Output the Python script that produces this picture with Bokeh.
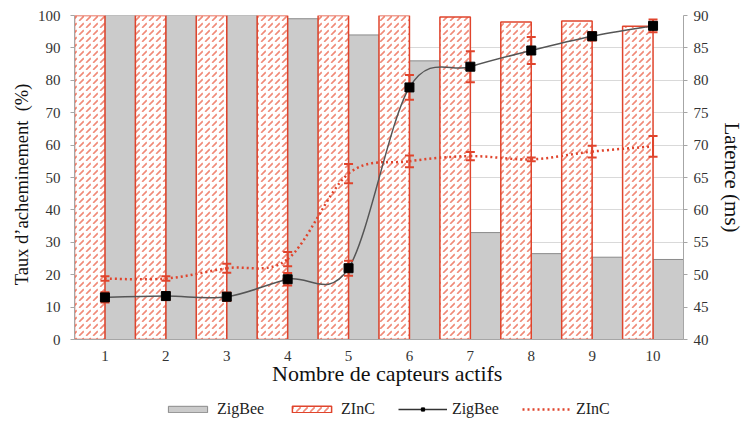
from bokeh.plotting import figure
from bokeh.layouts import column
from bokeh.models import Range1d, LinearAxis, FixedTicker, Legend, LegendItem
from bokeh.embed import file_html
from bokeh.resources import INLINE

# ---- data ----
categories = [1, 2, 3, 4, 5, 6, 7, 8, 9, 10]
tick_labels = ["1", "2", "3", "4", "5", "6", "7", "8", "9", "10"]
rate_zigbee = [100, 100, 100, 99, 94, 86, 33, 26.5, 25.4, 24.7]
rate_zinc = [100, 100, 100, 100, 100, 100, 99.5, 98, 98.3, 96.7]
lat_zigbee = [46.5, 46.7, 46.6, 49.3, 51.0, 78.9, 82.1, 84.6, 86.8, 88.4]
lat_zigbee_err = [0.8, 0.6, 0.65, 0.95, 1.15, 1.9, 2.4, 2.1, 0.65, 1.0]
lat_zinc = [49.4, 49.4, 51.0, 52.4, 65.6, 67.5, 68.3, 67.8, 69.0, 69.8]
lat_zinc_err = [0.35, 0.35, 0.7, 1.1, 1.5, 0.9, 0.65, 0.3, 0.9, 1.6]
series_names = ["ZigBee", "ZInC"]

RED = "#E0442C"
SERIF = "Liberation Serif"
GRAY_FILL = "#cbcbcb"
GRAY_LINE = "#8a8a8a"
HATCH = dict(hatch_pattern=",", hatch_color="#F08A78", hatch_scale=7, hatch_weight=1.7)
NAN = float("nan")
NB = "\u00a0"

p = figure(width=746, height=400, x_range=Range1d(0.5, 10.5), y_range=Range1d(0, 100),
           output_backend="svg", toolbar_location=None,
           min_border_left=74, min_border_right=56, min_border_top=15, min_border_bottom=61)
p.outline_line_color = None
p.extra_y_ranges = {"lat": Range1d(40, 90)}

# bars
p.vbar(x=[c + 0.25 for c in categories], top=rate_zigbee, width=0.5, bottom=0,
       fill_color=GRAY_FILL, line_color=GRAY_LINE, line_width=1)
p.vbar(x=[c - 0.25 for c in categories], top=rate_zinc, width=0.5, bottom=0,
       fill_color="white", line_color=RED, line_width=1.5, **HATCH)

def bez(xs, ys):
    n = len(xs)
    out = dict(x0=[], y0=[], x1=[], y1=[], cx0=[], cy0=[], cx1=[], cy1=[])
    for i in range(n - 1):
        pm = i - 1 if i > 0 else i
        pp = i + 2 if i + 2 < n else i + 1
        out["x0"].append(xs[i]); out["y0"].append(ys[i])
        out["x1"].append(xs[i + 1]); out["y1"].append(ys[i + 1])
        out["cx0"].append(xs[i] + (xs[i + 1] - xs[pm]) / 6)
        out["cy0"].append(ys[i] + (ys[i + 1] - ys[pm]) / 6)
        out["cx1"].append(xs[i + 1] - (xs[pp] - xs[i]) / 6)
        out["cy1"].append(ys[i + 1] - (ys[pp] - ys[i]) / 6)
    return out

def errbars(xs, ys, es):
    lo = [y - e for y, e in zip(ys, es)]
    hi = [y + e for y, e in zip(ys, es)]
    p.segment(x0=xs, y0=lo, x1=xs, y1=hi, line_color=RED, line_width=2, y_range_name="lat")
    p.scatter(x=xs, y=lo, marker="dash", size=9, line_color=RED, line_width=2, y_range_name="lat")
    p.scatter(x=xs, y=hi, marker="dash", size=9, line_color=RED, line_width=2, y_range_name="lat")

# ZInC latency (dotted red)
p.bezier(**bez(categories, lat_zinc), line_color=RED, line_width=2.5, line_dash="2 3",
         y_range_name="lat")
errbars(categories, lat_zinc, lat_zinc_err)

# ZigBee latency
p.bezier(**bez(categories, lat_zigbee), line_color="#555555", line_width=1.5, y_range_name="lat")
errbars(categories, lat_zigbee, lat_zigbee_err)
p.scatter(x=categories, y=lat_zigbee, marker="square", size=9, fill_color="black",
          line_color="black", y_range_name="lat")

# axes
p.xaxis.ticker = FixedTicker(ticks=categories)
p.xaxis.major_label_overrides = {c: t for c, t in zip(categories, tick_labels)}
p.xaxis.axis_label = NB * 3 + "Nombre de capteurs actifs"
p.yaxis.ticker = FixedTicker(ticks=list(range(0, 101, 10)))
p.yaxis.axis_label = "Taux d\u2019acheminement " + NB + "(%)" + NB * 3

ra = LinearAxis(y_range_name="lat", ticker=FixedTicker(ticks=list(range(40, 91, 5))),
                axis_label="Latence (ms)")
p.add_layout(ra, "right")

for ax in [p.xaxis[0], p.yaxis[0], ra]:
    ax.major_label_text_font = SERIF
    ax.major_label_text_font_size = "15px"
    ax.major_label_text_color = "#333333"
    ax.axis_label_text_font = SERIF
    ax.axis_label_text_font_size = "18.5px"
    ax.axis_label_text_font_style = "normal"
    ax.axis_label_text_color = "#111111"
    ax.axis_line_color = "#a6a6a6"
    ax.major_tick_line_color = "#a6a6a6"
    ax.minor_tick_line_color = None

p.xaxis.axis_label_text_font_size = "22px"
ra.axis_label_text_font_size = "21px"
p.xaxis.major_tick_line_color = None
p.xaxis.major_tick_out = 0
p.xaxis.major_tick_in = 0
p.xaxis.major_label_standoff = 11
p.xaxis.axis_label_standoff = -3
p.yaxis.major_tick_out = 4
p.yaxis.major_tick_in = 0
p.yaxis.major_label_standoff = 10
p.yaxis.axis_label_standoff = 3
ra.major_tick_out = 4
ra.major_tick_in = 0
ra.major_label_standoff = 6
ra.axis_label_standoff = 8

p.xgrid.grid_line_color = None
p.ygrid.grid_line_color = "#d9d9d9"

# ---- legend strip ----
lf = figure(width=746, height=21, x_range=Range1d(0, 1), y_range=Range1d(0, 1),
            output_backend="svg", toolbar_location=None,
            x_axis_location=None, y_axis_location=None, min_border=0)
lf.outline_line_color = None
lf.xgrid.grid_line_color = None
lf.ygrid.grid_line_color = None
lg_zb = lf.vbar(x=[NAN], top=[NAN], width=0.5, fill_color=GRAY_FILL, line_color=GRAY_LINE,
                line_width=1)
lg_zc = lf.vbar(x=[NAN], top=[NAN], width=0.5, fill_color="white", line_color=RED,
                line_width=1.5, **HATCH)
lg_line = lf.line(x=[NAN], y=[NAN], line_color="#333333", line_width=1.5)
lg_mark = lf.scatter(x=[NAN], y=[NAN], marker="square", size=7, fill_color="black",
                     line_color="black")
lg_dot = lf.line(x=[NAN], y=[NAN], line_color=RED, line_width=2.5, line_dash="2 3")

legend = Legend(items=[
    LegendItem(label=series_names[0], renderers=[lg_zb]),
    LegendItem(label=series_names[1], renderers=[lg_zc]),
    LegendItem(label=series_names[0], renderers=[lg_line, lg_mark]),
    LegendItem(label=series_names[1], renderers=[lg_dot]),
], orientation="horizontal", location=(89, 3))
legend.label_text_font = SERIF
legend.label_text_font_size = "16px"
legend.label_text_color = "#222222"
legend.glyph_width = 49
legend.glyph_height = 8
legend.label_height = 8
legend.label_standoff = 5
legend.spacing = 23
legend.padding = 0
legend.margin = 0
legend.border_line_color = None
legend.background_fill_alpha = 0
lf.add_layout(legend, "center")

layout = column(p, lf, spacing=0)
open("out.html", "w").write(file_html(layout, INLINE))
